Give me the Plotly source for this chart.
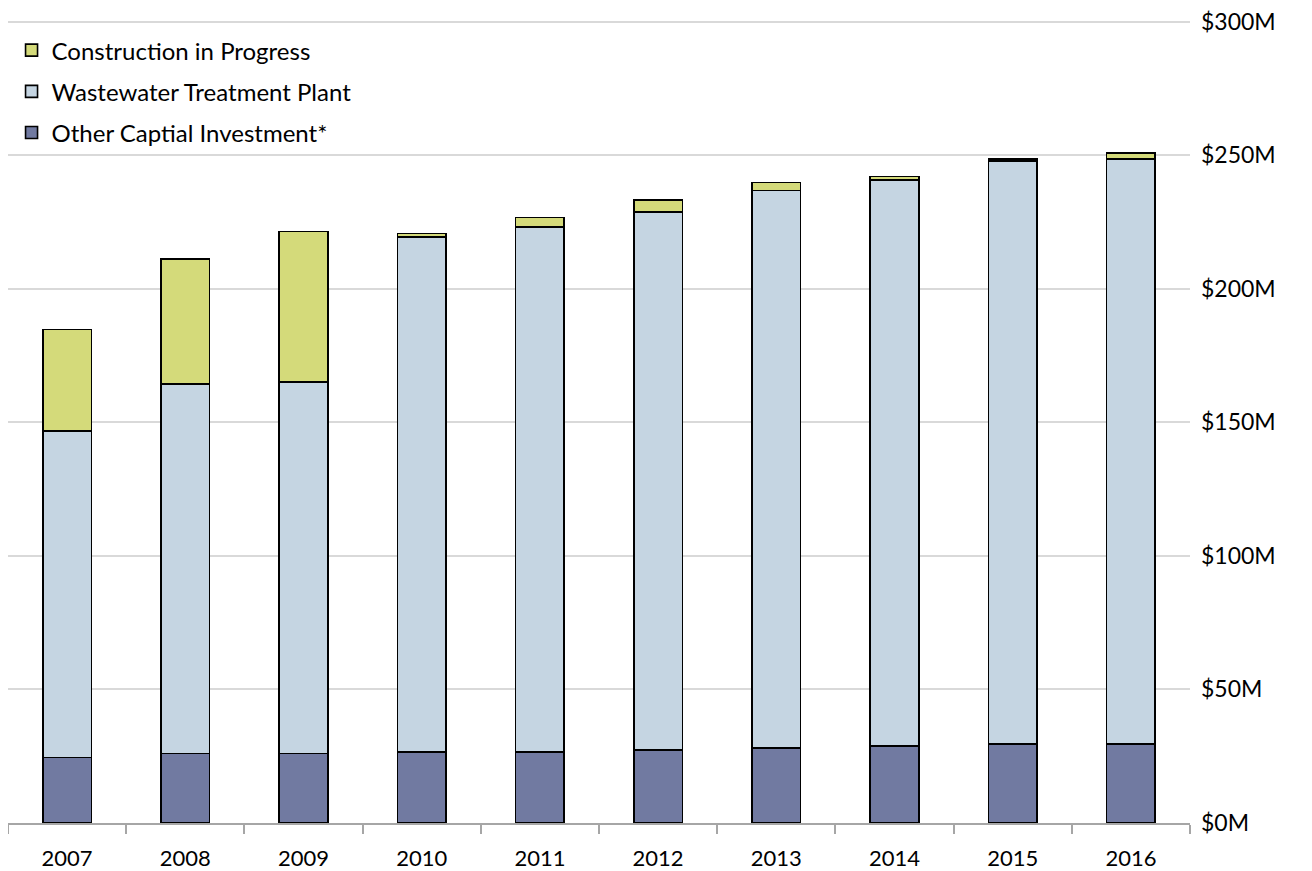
import plotly.graph_objects as go

years = ["2007", "2008", "2009", "2010", "2011", "2012", "2013", "2014", "2015", "2016"]
other_capital = [24.5, 26.0, 26.0, 26.6, 26.6, 27.4, 28.1, 28.8, 29.6, 29.6]
wastewater_plant = [122.3, 138.4, 139.0, 192.8, 196.4, 201.4, 208.7, 211.9, 218.2, 218.9]
construction = [37.9, 46.8, 56.4, 1.3, 3.6, 4.4, 3.0, 1.3, 0.7, 2.3]
y_ticks = [0, 50, 100, 150, 200, 250, 300]
y_tick_labels = ["$0M", "$50M", "$100M", "$150M", "$200M", "$250M", "$300M"]

series = [
    ("Other Captial Investment*", other_capital, "#717aa1", "g1", 3),
    ("Wastewater Treatment Plant", wastewater_plant, "#c5d5e2", "g2", 2),
    ("Construction in Progress", construction, "#d4da7a", "g3", 1),
]

fig = go.Figure()
for name, vals, color, grp, rank in series:
    fig.add_trace(go.Bar(
        x=years, y=vals, name=name, legendgroup=grp, legendrank=rank,
        marker=dict(color=color, line=dict(color="black", width=1.6)),
    ))

font_family = "Lato, 'Open Sans', sans-serif"
fig.update_layout(
    width=1304, height=863,
    barmode="stack", bargap=0.59,
    plot_bgcolor="white", paper_bgcolor="white",
    margin=dict(l=0, r=122, t=12, b=48, autoexpand=False),
    font=dict(family=font_family, size=23, color="black"),
    showlegend=True,
    legend=dict(
        x=0.003, y=0.99, xanchor="left", yanchor="top",
        traceorder="grouped", tracegroupgap=7,
        font=dict(size=24), bgcolor="rgba(0,0,0,0)",
        itemwidth=30,
    ),
    xaxis=dict(
        showgrid=False, showline=True, linecolor="#a6a6a6", linewidth=1.5,
        ticks="outside", tickson="boundaries", ticklen=9, tickcolor="#a6a6a6", tickwidth=1.5,
        ticklabelstandoff=15, tickfont=dict(size=22), automargin=False,
        ticklabeloverflow="allow",
    ),
    yaxis=dict(
        side="right", range=[0, 300.6], tickvals=y_ticks, ticktext=y_tick_labels,
        showgrid=True, gridcolor="#d9d9d9", gridwidth=1.5,
        zeroline=False, showline=False, ticks="",
        ticklabelstandoff=10, tickfont=dict(size=23), automargin=False,
        ticklabeloverflow="allow",
    ),
)

fig.write_html("out.html")
